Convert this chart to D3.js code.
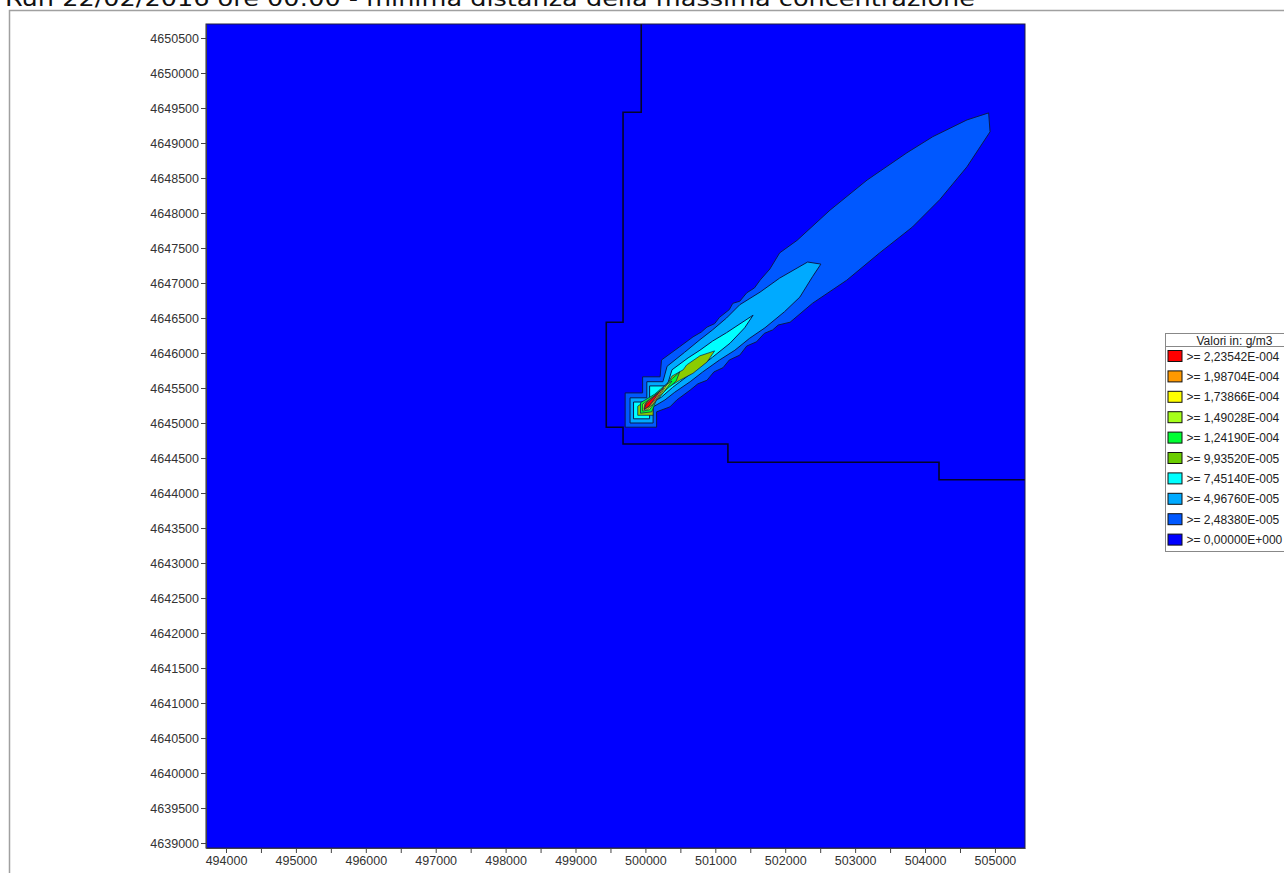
<!DOCTYPE html>
<html>
<head>
<meta charset="utf-8">
<script src="https://cdn.jsdelivr.net/npm/d3@7"></script>
<style>
  html, body { margin: 0; padding: 0; background: #fff; overflow: hidden; }
  svg { display: block; }
</style>
</head>
<body>
<script>
// ---------------- DATA ----------------
const titleText = "Run 22/02/2016 ore 00:00 - minima distanza della massima concentrazione";
const legendTitle = "Valori in: g/m3";
const levelLabels = [">= 2,23542E-004", ">= 1,98704E-004", ">= 1,73866E-004", ">= 1,49028E-004",
  ">= 1,24190E-004", ">= 9,93520E-005", ">= 7,45140E-005", ">= 4,96760E-005",
  ">= 2,48380E-005", ">= 0,00000E+000"];
const levelColors = ["#ff0000", "#ff9900", "#ffff00", "#a6ff1a", "#00ff33", "#6acc00",
  "#00ffff", "#00aaff", "#0058ff", "#0000ff"];

const xTicks = d3.range(494000, 505001, 500);
const yTicks = d3.range(4639000, 4650501, 500);
const xDomain = [493714, 505430];
const yDomain = [4638929, 4650700];

// contour polygons (UTM metres), from lowest level to highest
const c1 = [[499710,4644940],[499710,4645430],[499960,4645430],[499960,4645660],[500210,4645660],[500230,4645900],
  [500490,4646090],[500680,4646230],[500800,4646300],[500880,4646370],[500990,4646420],[501060,4646510],
  [501200,4646620],[501250,4646710],[501350,4646740],[501450,4646860],[501560,4646930],
  [501640,4647040],[501780,4647200],[501920,4647430],[502170,4647610],[502640,4648040],[503170,4648470],[503740,4648860],
  [504110,4649090],[504600,4649330],[504910,4649430],[504930,4649160],[504600,4648660],[504210,4648190],
  [503820,4647800],[503350,4647430],[502880,4647040],[502390,4646710],[502070,4646440],[501900,4646400],[501820,4646330],
  [501700,4646280],[501590,4646160],[501450,4646100],[501350,4645970],[501200,4645900],[501110,4645790],
  [500980,4645730],[500880,4645610],[500750,4645560],[500640,4645470],[500450,4645330],
  [500350,4645230],[500160,4645160],[500160,4644940]];
const c2 = [[499780,4645000],[499780,4645360],[500020,4645360],[500020,4645590],[500250,4645590],[500310,4645810],
  [500560,4646010],[500780,4646190],[500960,4646330],[501160,4646500],[501350,4646690],[501640,4646870],
  [501920,4647070],[502320,4647300],[502510,4647270],[502390,4647090],[502210,4646800],[501990,4646590],
  [501710,4646360],[501490,4646210],[501280,4646040],[501060,4645900],[500820,4645730],[500640,4645590],
  [500420,4645440],[500280,4645330],[500110,4645230],[500110,4645000]];
const c3 = [[499830,4645060],[499830,4645300],[500060,4645300],[500060,4645530],[500310,4645530],[500380,4645760],
  [500610,4645930],[500780,4646040],[500960,4646170],[501160,4646290],[501540,4646540],[501420,4646360],
  [501210,4646140],[500960,4645940],[500780,4645800],[500590,4645660],[500390,4645510],[500230,4645370],
  [500060,4645270],[500060,4645060]];
const c4 = [[499890,4645110],[499890,4645240],[500060,4645360],[500280,4645500],[500380,4645670],[500540,4645760],
  [500590,4645830],[500780,4645960],[500990,4646030],[500880,4645870],[500680,4645710],[500490,4645610],
  [500310,4645500],[500180,4645360],[500110,4645270],[500110,4645110]];
const c5 = [[499930,4645140],[499930,4645290],[500130,4645410],[500280,4645540],[500390,4645640],[500490,4645730],
  [500440,4645600],[500280,4645460],[500150,4645310],[500090,4645160]];
const c6 = [[499960,4645170],[499960,4645270],[500160,4645410],[500320,4645560],[500380,4645600],[500260,4645440],
  [500130,4645290],[500060,4645190]];
const c7 = [[499980,4645200],[499990,4645270],[500210,4645460],[500320,4645570],[500230,4645430],[500110,4645270],
  [500030,4645200]];
const c8 = [[499990,4645210],[500010,4645290],[500180,4645430],[500260,4645500],[500150,4645340],[500050,4645230]];
const c9 = [[499980,4645190],[500010,4645270],[500110,4645360],[500210,4645460],[500120,4645330],[500050,4645240]];
const contours = [c1, c2, c3, c4, c5, c6, c7, c8, c9];
const contourColors = ["#0058ff", "#00aaff", "#00ffff", "#8ccc00", "#00ff33", "#a6ff1a", "#ffff00", "#ff9900", "#ff0000"];

// administrative boundary
const boundary = [[499940,4650800],[499940,4649440],[499680,4649440],[499680,4646440],[499440,4646440],
  [499440,4644940],[499680,4644940],[499680,4644700],[501180,4644700],[501180,4644440],[504200,4644440],
  [504200,4644190],[505600,4644190]];

// ---------------- DRAW ----------------
const W = 1284, H = 873;
const svg = d3.select("body").append("svg").attr("width", W).attr("height", H);

// outer frame
svg.append("rect").attr("x", 9.5).attr("y", 10.5).attr("width", W + 20).attr("height", H + 20)
  .attr("fill", "none").attr("stroke", "#a0a0a0").attr("stroke-width", 1.5);

// title (cut at top, as in the original)
svg.append("text").attr("x", 5).attr("y", 6)
  .attr("font-family", "DejaVu Sans, Verdana, sans-serif").attr("font-size", 22)
  .attr("fill", "#111").attr("textLength", 970).attr("lengthAdjust", "spacingAndGlyphs")
  .text(titleText);

const x = d3.scaleLinear().domain(xDomain).range([206, 1025]);
const y = d3.scaleLinear().domain(yDomain).range([848, 24]);

svg.append("clipPath").attr("id", "plotclip").append("rect")
  .attr("x", x(xDomain[0])).attr("y", y(yDomain[1]))
  .attr("width", x(xDomain[1]) - x(xDomain[0])).attr("height", y(yDomain[0]) - y(yDomain[1]));

const plot = svg.append("g").attr("clip-path", "url(#plotclip)");
plot.append("rect")
  .attr("x", x(xDomain[0])).attr("y", y(yDomain[1]))
  .attr("width", x(xDomain[1]) - x(xDomain[0])).attr("height", y(yDomain[0]) - y(yDomain[1]))
  .attr("fill", levelColors[levelColors.length - 1]);

const line = d3.line().x(d => x(d[0])).y(d => y(d[1]));
plot.selectAll("path.contour").data(contours).join("path")
  .attr("class", "contour")
  .attr("d", d => line(d) + "Z")
  .attr("fill", (d, i) => contourColors[i])
  .attr("stroke", "#0a1a50").attr("stroke-width", (d, i) => i < 3 ? 1 : 0.7)
  .attr("stroke-linejoin", "round");

plot.append("path").attr("d", line(boundary))
  .attr("fill", "none").attr("stroke", "#05052a").attr("stroke-width", 1.6);

// plot border
svg.append("rect")
  .attr("x", x(xDomain[0])).attr("y", y(yDomain[1]))
  .attr("width", x(xDomain[1]) - x(xDomain[0])).attr("height", y(yDomain[0]) - y(yDomain[1]))
  .attr("fill", "none").attr("stroke", "#202040").attr("stroke-width", 1);

// axes
const yAxis = d3.axisLeft(y).tickValues(yTicks).tickFormat(d3.format("d")).tickSize(5).tickSizeOuter(0);
const gy = svg.append("g").attr("transform", `translate(${x(xDomain[0])},0)`).call(yAxis);
const xAxis = d3.axisBottom(x).tickValues(xTicks).tickFormat(d => d % 1000 === 0 ? d3.format("d")(d) : "")
  .tickSize(5).tickSizeOuter(0);
const gx = svg.append("g").attr("transform", `translate(0,${y(yDomain[0])})`).call(xAxis);
[gx, gy].forEach(g => {
  g.selectAll("text").attr("font-family", "Liberation Sans, Arial, sans-serif").attr("font-size", 12.5).attr("fill", "#333");
  g.selectAll("line").attr("stroke", "#444");
  g.select(".domain").attr("stroke", "#444");
});
gy.selectAll("text").attr("x", -7);
gx.selectAll("text").attr("y", 8);

// legend
const lx = 1165.5, ly = 333.5, rowH = 20.4;
const lg = svg.append("g");
lg.append("rect").attr("x", lx).attr("y", ly).attr("width", 140).attr("height", 218)
  .attr("fill", "#fff").attr("stroke", "#888");
lg.append("line").attr("x1", lx).attr("x2", lx + 140).attr("y1", ly + 13).attr("y2", ly + 13).attr("stroke", "#888");
lg.append("text").attr("x", lx + 31).attr("y", ly + 11)
  .attr("font-family", "Liberation Sans, Arial, sans-serif").attr("font-size", 12).attr("fill", "#222")
  .text(legendTitle);
const rows = lg.selectAll("g.row").data(levelLabels).join("g")
  .attr("class", "row").attr("transform", (d, i) => `translate(0,${ly + 22.5 + i * rowH})`);
rows.append("rect").attr("x", lx + 2.5).attr("y", -5.5).attr("width", 14).attr("height", 11)
  .attr("fill", (d, i) => levelColors[i]).attr("stroke", "#111");
rows.append("text").attr("x", lx + 21).attr("y", 4.5)
  .attr("font-family", "Liberation Sans, Arial, sans-serif").attr("font-size", 12).attr("fill", "#222")
  .text(d => d);
</script>
</body>
</html>
